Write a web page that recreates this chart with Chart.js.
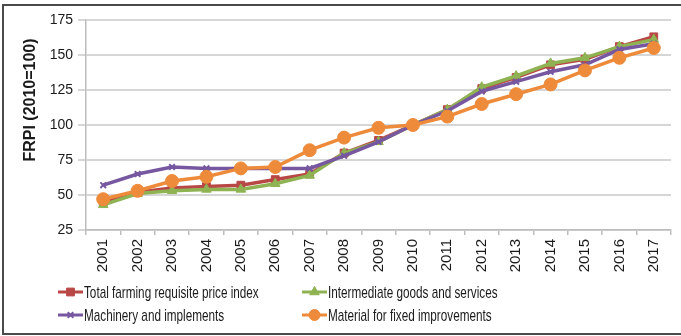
<!DOCTYPE html>
<html lang="en">
<head>
  <meta charset="UTF-8">
  <title>Farming requisite price index</title>
  <script src="https://cdn.jsdelivr.net/npm/chart.js"></script>
  <style>
    html, body { margin: 0; padding: 0; background: #fff; }
    #wrap { position: relative; width: 681px; height: 336px; overflow: hidden; }
    #frame {
      position: absolute; left: 2px; top: 4px; width: 700px; height: 327px;
      border: 2px solid #4a4a4a; border-right: none; pointer-events: none;
    }
  </style>
</head>
<body>
  <div id="wrap">
    <canvas id="frpiChart" width="681" height="336"></canvas>
    <div id="frame"></div>
  </div>

  <script>
    const years = ['2001', '2002', '2003', '2004', '2005', '2006', '2007', '2008', '2009',
                   '2010', '2011', '2012', '2013', '2014', '2015', '2016', '2017'];
    const totalIndex = [45, 52, 55, 56, 57, 61, 65, 80, 89, 100, 111, 126, 134, 143, 147, 156, 163];
    const intermediate = [43, 51, 53, 54, 54, 58, 64, 80, 88, 100, 111, 127, 135, 144, 148, 156, 161];
    const machinery = [57, 65, 70, 69, 69, 69, 69, 78, 88, 100, 110, 124, 131, 138, 143, 154, 158];
    const material = [47, 53, 60, 63, 69, 70, 82, 91, 98, 100, 106, 115, 122, 129, 139, 148, 155];
    const yTicks = [25, 50, 75, 100, 125, 150, 175];

    const seriesNames = ['Total farming requisite price index', 'Intermediate goods and services',
                         'Machinery and implements', 'Material for fixed improvements'];

    function series(label, data, color, style, radius, order) {
      return {
        label: label,
        data: data,
        borderColor: color,
        backgroundColor: color,
        borderWidth: 3.5,
        pointStyle: style,
        pointRadius: radius,
        pointBorderWidth: style === 'crossRot' ? 2 : 1,
        pointBorderColor: color,
        pointBackgroundColor: color,
        tension: 0,
        order: order
      };
    }

    // legend in two fixed columns under the axis labels, condensed text
    const legendPlugin = {
      id: 'twoColLegend',
      afterDraw(chart) {
        const ctx = chart.ctx;
        const spots = [[58, 292], [302, 292], [58, 315], [302, 315]];
        chart.data.datasets.forEach((ds, i) => {
          const [x, y] = spots[i];
          ctx.save();
          ctx.strokeStyle = ds.borderColor;
          ctx.lineWidth = 3;
          ctx.beginPath();
          ctx.moveTo(x, y);
          ctx.lineTo(x + 25, y);
          ctx.stroke();
          ctx.fillStyle = ds.backgroundColor;
          ctx.strokeStyle = ds.borderColor;
          ctx.lineWidth = ds.pointBorderWidth;
          Chart.helpers.drawPoint(ctx, {
            pointStyle: ds.pointStyle,
            radius: ds.pointStyle === 'crossRot' ? 4 : 5.5,
            rotation: 0,
            borderWidth: ds.pointBorderWidth
          }, x + 12.5, y);
          ctx.translate(x + 26, y + 1);
          ctx.scale(0.69, 1);
          ctx.fillStyle = '#1a1a1a';
          ctx.font = '17px "Liberation Sans", Arial, sans-serif';
          ctx.textAlign = 'left';
          ctx.textBaseline = 'middle';
          ctx.fillText(ds.label, 0, 0);
          ctx.restore();
        });
      }
    };

    const yTitlePlugin = {
      id: 'yTitle',
      afterDraw(chart) {
        const ctx = chart.ctx;
        ctx.save();
        ctx.translate(31, 100);
        ctx.rotate(-Math.PI / 2);
        ctx.fillStyle = '#1a1a1a';
        ctx.font = 'bold 16px "Liberation Sans", Arial, sans-serif';
        ctx.textAlign = 'center';
        ctx.textBaseline = 'middle';
        ctx.fillText('FRPI (2010=100)', 0, 0);
        ctx.restore();
      }
    };

    const ctx = document.getElementById('frpiChart').getContext('2d');
    new Chart(ctx, {
      type: 'line',
      data: {
        labels: years,
        datasets: [
          series(seriesNames[0], totalIndex, '#B84745', 'rect', 5.5, 3),
          series(seriesNames[1], intermediate, '#8FB352', 'triangle', 5.5, 2),
          series(seriesNames[2], machinery, '#7657A0', 'crossRot', 4, 1),
          series(seriesNames[3], material, '#EE8B3B', 'circle', 6.5, 0)
        ]
      },
      options: {
        responsive: false,
        animation: false,
        layout: { padding: { top: 20, right: 10, left: 0, bottom: 0 } },
        plugins: {
          legend: { display: false },
          tooltip: { enabled: false }
        },
        scales: {
          x: {
            offset: true,
            afterFit(scale) { scale.height = 106; },
            grid: {
              offset: true,
              color: c => c.index === years.length ? '#BDBDBD' : 'rgba(0,0,0,0)',
              tickColor: '#BDBDBD',
              tickLength: 5,
              lineWidth: 1.5
            },
            border: { color: '#BDBDBD', width: 1.5 },
            ticks: {
              minRotation: 90,
              maxRotation: 90,
              padding: 4,
              color: '#1a1a1a',
              font: { family: '"Liberation Sans", Arial, sans-serif', size: 15 }
            }
          },
          y: {
            min: 25,
            max: 175,
            afterFit(scale) { scale.width = 86; },
            afterBuildTicks(scale) { scale.ticks = yTicks.map(v => ({ value: v })); },
            grid: {
              color: '#D6D6D6',
              lineWidth: 2,
              tickLength: 8,
              tickColor: '#D6D6D6'
            },
            border: { color: '#BDBDBD', width: 1.5 },
            ticks: {
              padding: 5,
              color: '#1a1a1a',
              font: { family: '"Liberation Sans", Arial, sans-serif', size: 14 }
            }
          }
        }
      },
      plugins: [legendPlugin, yTitlePlugin]
    });
  </script>
</body>
</html>
